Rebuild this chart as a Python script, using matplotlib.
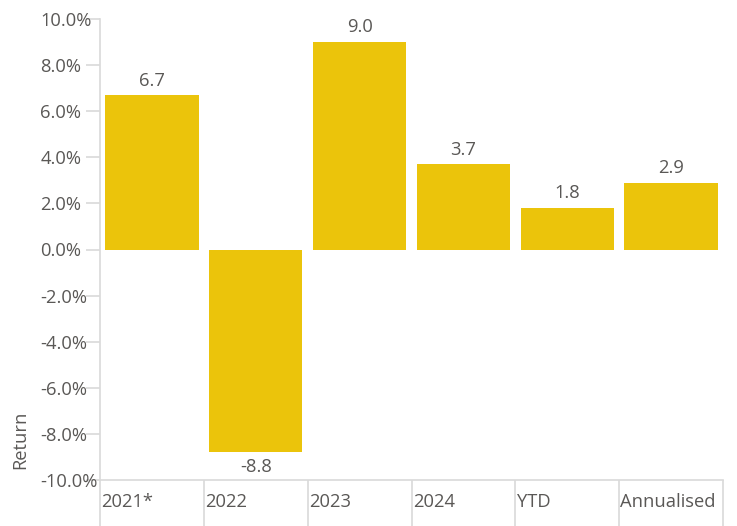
import matplotlib
matplotlib.use("Agg")
import matplotlib.pyplot as plt
import matplotlib.transforms as mtransforms

plt.rcParams['font.family'] = ['Open Sans', 'DejaVu Sans']

categories = ["2021*", "2022", "2023", "2024", "YTD", "Annualised"]
returns = [6.7, -8.8, 9.0, 3.7, 1.8, 2.9]
yticks = [-10, -8, -6, -4, -2, 0, 2, 4, 6, 8, 10]

bar_color = "#EBC40B"
text_color = "#5A5856"
line_color = "#D9D9D9"
fs = 13.2

fig = plt.figure(figsize=(7.37, 5.26), dpi=100)
ax = fig.add_axes([100 / 737, 1 - 480 / 526, 623 / 737, 461 / 526])

x = list(range(len(categories)))
bars = ax.bar(x, returns, width=0.9, color=bar_color)

ax.set_xlim(-0.5, len(categories) - 0.5)
ax.set_ylim(-10, 10)

# value labels
for xi, v in zip(x, returns):
    if v >= 0:
        ax.annotate(f"{v:.1f}", (xi, v), xytext=(0, 4), textcoords="offset points",
                    ha="center", va="bottom", fontsize=fs, color=text_color)
    else:
        ax.annotate(f"{v:.1f}", (xi, v), xytext=(0, -4), textcoords="offset points",
                    ha="center", va="top", fontsize=fs, color=text_color)

# y axis
ax.set_yticks(yticks)
ax.set_yticklabels([f"{t:.1f}%" for t in yticks], ha="left")
ax.tick_params(axis="y", length=10, width=1.2, color=line_color, pad=33,
               labelsize=fs, labelcolor=text_color)

# x axis: separators at category boundaries, labels left-aligned
ax.set_xticks([i - 0.5 for i in range(len(categories) + 1)])
ax.set_xticklabels([])
ax.tick_params(axis="x", length=34, width=1.2, color=line_color)
trans = mtransforms.blended_transform_factory(ax.transData, ax.transAxes)
for i, c in enumerate(categories):
    ax.text(i - 0.5 + 0.012, -0.047, c, transform=trans, ha="left", va="center",
            fontsize=fs, color=text_color)

for s in ["top", "right"]:
    ax.spines[s].set_visible(False)
for s in ["left", "bottom"]:
    ax.spines[s].set_color(line_color)
    ax.spines[s].set_linewidth(1.2)

fig.text(20 / 737, 1 - 440 / 526, "Return", rotation=90, ha="center", va="center",
         fontsize=fs, color=text_color)

fig.savefig("out.png", dpi=100)
